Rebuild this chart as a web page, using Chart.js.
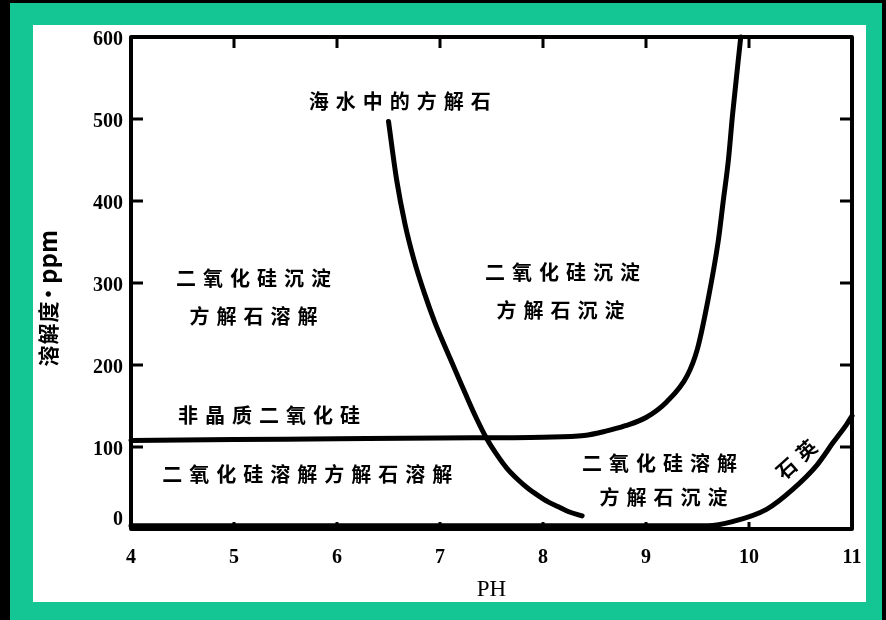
<!DOCTYPE html>
<html>
<head>
<meta charset="utf-8">
<script src="https://cdn.jsdelivr.net/npm/chart.js@4/dist/chart.umd.min.js"></script>
<style>
  html, body { margin: 0; padding: 0; background: #000; }
  #band { position: absolute; left: 10px; top: 3px; width: 872px; height: 617px; background: #13C694; }
  #paper { position: absolute; left: 33px; top: 25px; width: 833px; height: 577px; background: #fff; }
  #c { position: absolute; left: 0; top: 0; }
</style>
</head>
<body>
<div id="band"></div>
<div id="paper"></div>
<canvas id="c" width="886" height="620"></canvas>
<script>
// Solubility (ppm) against pH
const phTicks = [4, 5, 6, 7, 8, 9, 10, 11];
const ppmTicks = [0, 100, 200, 300, 400, 500, 600];

// amorphous silica
const silicaPH  = [4, 5, 6, 7, 8, 8.4, 8.6, 8.8, 9.0, 9.2, 9.4, 9.5, 9.6, 9.7, 9.75, 9.8, 9.84, 9.92];
const silicaPPM = [108, 109, 110, 111, 112, 114, 119, 126, 136, 155, 187, 220, 278, 350, 400, 450, 505, 600];

// calcite in sea water
const calcitePH  = [6.5, 6.58, 6.66, 6.75, 6.85, 6.95, 7.05, 7.15, 7.25, 7.35, 7.45, 7.55, 7.65, 7.75, 7.85, 7.95, 8.05, 8.15, 8.25, 8.38];
const calcitePPM = [497, 425, 372, 327, 287, 252, 222, 193, 164, 136, 111, 91, 74, 61, 50, 41, 33, 27, 21, 16];

// quartz
const quartzPH  = [4, 5, 6, 7, 8, 9, 9.6, 9.84, 10.17, 10.43, 10.66, 10.82, 10.95, 11];
const quartzPPM = [4, 4, 4, 4, 4, 4, 4, 9, 24, 49, 78, 106, 128, 138];

// region labels: text, pH, ppm
const labelTexts = ['海水中的方解石', '二氧化硅沉淀', '方解石溶解', '非晶质二氧化硅', '二氧化硅溶解方解石溶解',
                    '二氧化硅沉淀', '方解石沉淀', '二氧化硅溶解', '方解石沉淀', '石英'];
const labelPH  = [6.61, 5.19, 5.19, 5.34, 5.71, 8.19, 8.17, 9.13, 9.17, 10.46];
const labelPPM = [521, 306, 259, 139, 66, 313, 267, 80, 38, 85];
const labelAngle = [0, 0, 0, 0, 0, 0, 0, 0, 0, -42];

const yTitleParts = ['溶', '解', '度', '·', 'ppm'];

const toPts = (xs, ys) => xs.map((x, i) => ({ x: x, y: ys[i] }));

const CJK = '"Noto Sans CJK SC", "Noto Sans CJK JP", sans-serif';
const SERIF = '"Liberation Serif", "DejaVu Serif", serif';

const framePlugin = {
  id: 'frame',
  afterDatasetsDraw(chart) {
    const { ctx, chartArea: a, scales } = chart;
    ctx.save();
    ctx.strokeStyle = '#000';
    ctx.lineWidth = 4;
    ctx.lineJoin = 'round';
    ctx.strokeRect(a.left, a.top, a.right - a.left, a.bottom - a.top);
    ctx.lineWidth = 3;
    ctx.beginPath();
    phTicks.slice(1, -1).forEach(v => {
      const px = scales.x.getPixelForValue(v);
      ctx.moveTo(px, a.top); ctx.lineTo(px, a.top + 11);
      ctx.moveTo(px, a.bottom); ctx.lineTo(px, a.bottom - 7);
    });
    ppmTicks.slice(1, -1).forEach(v => {
      const py = scales.y.getPixelForValue(v);
      ctx.moveTo(a.left, py); ctx.lineTo(a.left + 12, py);
      ctx.moveTo(a.right, py); ctx.lineTo(a.right - 12, py);
    });
    ctx.stroke();

    // region labels, drawn character by character with wide spacing
    ctx.fillStyle = '#000';
    ctx.font = 'bold 20px ' + CJK;
    ctx.textAlign = 'center';
    ctx.textBaseline = 'middle';
    const step = 27;
    labelTexts.forEach((t, i) => {
      const cx = scales.x.getPixelForValue(labelPH[i]);
      const cy = scales.y.getPixelForValue(labelPPM[i]);
      const chars = Array.from(t);
      ctx.save();
      ctx.translate(cx, cy);
      ctx.rotate(labelAngle[i] * Math.PI / 180);
      chars.forEach((ch, k) => {
        ctx.fillText(ch, (k - (chars.length - 1) / 2) * step, 0);
      });
      ctx.restore();
    });

    // y axis title, spaced out along the axis
    const offsets = [11, 33, 55, 73, 110];
    ctx.save();
    ctx.translate(48, 367);
    ctx.rotate(-Math.PI / 2);
    yTitleParts.forEach((s, k) => {
      ctx.font = (k < 4 ? 'bold 21px ' : 'bold 24px ') + CJK;
      ctx.fillText(s, offsets[k], 0);
    });
    ctx.restore();
    ctx.restore();
  }
};

new Chart(document.getElementById('c'), {
  type: 'scatter',
  data: {
    datasets: [
      { label: '非晶质二氧化硅', data: toPts(silicaPH, silicaPPM) },
      { label: '海水中的方解石', data: toPts(calcitePH, calcitePPM) },
      { label: '石英', data: toPts(quartzPH, quartzPPM) }
    ].map(d => Object.assign(d, {
      showLine: true,
      borderColor: '#000',
      borderWidth: 5,
      borderCapStyle: 'round',
      borderJoinStyle: 'round',
      pointRadius: 0,
      cubicInterpolationMode: 'monotone',
      clip: 4
    }))
  },
  options: {
    responsive: false,
    animation: false,
    devicePixelRatio: 1,
    layout: { padding: { left: 0, top: 37, right: 34, bottom: 0 } },
    plugins: { legend: { display: false }, tooltip: { enabled: false } },
    scales: {
      x: {
        type: 'linear', min: 4, max: 11,
        afterBuildTicks: s => { s.ticks = phTicks.map(v => ({ value: v })); },
        afterFit: s => { s.height = 91; },
        grid: { display: false, drawTicks: false },
        border: { display: false },
        ticks: { color: '#000', padding: 17, font: { family: SERIF, size: 20, weight: 'bold' } },
        title: { display: true, text: 'PH', color: '#000', font: { family: SERIF, size: 23 }, padding: { top: 0, bottom: 16 } }
      },
      y: {
        type: 'linear', min: 0, max: 600,
        afterBuildTicks: s => { s.ticks = ppmTicks.map(v => ({ value: v })); },
        afterFit: s => { s.width = 131; },
        grid: { display: false, drawTicks: false },
        border: { display: false },
        ticks: {
          color: '#000', padding: 8, labelOffset: 3,
          font: { family: SERIF, size: 20, weight: 'bold' },
          callback: v => (v === 0 ? ['0', ''] : String(v))
        }
      }
    }
  },
  plugins: [framePlugin]
});
</script>
</body>
</html>
